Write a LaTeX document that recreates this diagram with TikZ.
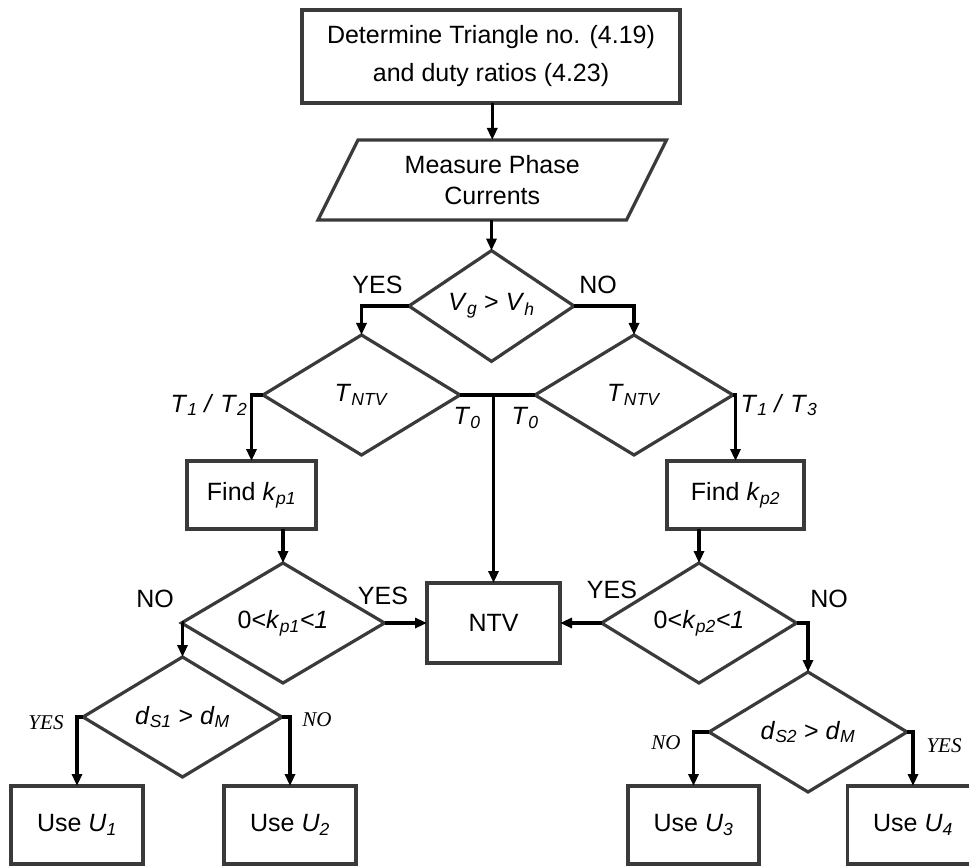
\documentclass[tikz,border=0pt]{standalone}
\usepackage{fontspec}
\setmainfont{Liberation Sans}
\newfontfamily\labserif{Liberation Serif}
\usetikzlibrary{shapes.geometric,arrows.meta}
% italic symbol with an italic subscript
\newcommand{\isub}[2]{\textit{#1}\textsubscript{\textit{#2}}}
\definecolor{edge}{HTML}{3A3A3A}

\begin{document}
\begin{tikzpicture}[x=1pt,y=-1pt,
  every node/.style={inner sep=0pt, outer sep=0pt},
  txt/.style={font=\fontsize{25}{30}\selectfont},
  blk/.style={txt, draw=edge, line width=3.2pt, rectangle, align=center},
  dec/.style={txt, draw=edge, line width=3.2pt, diamond},
  lab/.style={txt},
  slab/.style={font=\fontsize{21}{25}\selectfont\labserif\itshape},
  arr/.style={draw=black, line width=3.2pt, -{Triangle[length=12pt,width=10pt]}},
  link/.style={draw=black, line width=3.2pt}
]
\useasboundingbox (0,0) rectangle (969,866);

% process blocks
\node[blk, minimum width=378pt, minimum height=93pt, font=\fontsize{25}{38}\selectfont]
  (top) at (491,56.5) {Determine Triangle no. (4.19)\\and duty ratios (4.23)};
\node[txt, align=center, minimum width=308.5pt, minimum height=80pt, font=\fontsize{25}{31}\selectfont]
  (meas) at (492.25,180) {Measure Phase\\Currents};
\draw[draw=edge, line width=3.2pt]
  ([xshift=20pt]meas.north west) -- ([xshift=20pt]meas.north east)
  -- ([xshift=-20pt]meas.south east) -- ([xshift=-20pt]meas.south west) -- cycle;

% decisions
\node[dec, minimum width=165pt, minimum height=102pt] (d1) at (491.5,306) {\isub{V}{g} > \isub{V}{h}};
\node[dec, minimum width=197pt, minimum height=120pt] (d2) at (361.5,395) {\isub{T}{NTV}};
\node[dec, minimum width=198pt, minimum height=120pt] (d3) at (634,395) {\isub{T}{NTV}};
\node[dec, minimum width=203pt, minimum height=120pt] (d4) at (283,623) {0<\isub{k}{p1}\textit{<1}};
\node[dec, minimum width=195pt, minimum height=120pt] (d6) at (699,623) {0<\isub{k}{p2}\textit{<1}};
\node[dec, minimum width=199pt, minimum height=120pt] (d5) at (182.5,717) {\isub{d}{S1} > \isub{d}{M}};
\node[dec, minimum width=198pt, minimum height=120pt] (d7) at (808,732) {\isub{d}{S2} > \isub{d}{M}};

% result blocks
\node[blk, minimum width=133pt, minimum height=80pt] (ntv) at (493.5,623) {NTV};
\node[blk, minimum width=129pt, minimum height=68pt] (find1) at (251.5,495) {Find \isub{k}{p1}};
\node[blk, minimum width=137pt, minimum height=68pt] (find2) at (735.5,495) {Find \isub{k}{p2}};
\node[blk, minimum width=132pt, minimum height=78pt] (u1) at (77,825) {Use \isub{U}{1}};
\node[blk, minimum width=132pt, minimum height=78pt] (u2) at (290,825) {Use \isub{U}{2}};
\node[blk, minimum width=131pt, minimum height=78pt] (u3) at (693.5,825) {Use \isub{U}{3}};
\node[blk, minimum width=131pt, minimum height=78pt] (u4) at (913,825) {Use \isub{U}{4}};

% connectors
\draw[arr] (top.south -| meas.north) -- (meas.north);
\draw[arr] (meas.south -| d1.north) -- (d1.north);
\draw[arr] (d1.west) -| (d2.north);
\draw[arr] (d1.east) -| (d3.north);
\draw[link] (d2.east) -- (d3.west);
\draw[arr] (d2.east -| ntv.north) -- (ntv.north);
\draw[arr] (d2.west) -| (find1.north);
\draw[arr] (d3.east) -| (find2.north);
\draw[arr] (find1.south -| d4.north) -- (d4.north);
\draw[arr] (find2.south -| d6.north) -- (d6.north);
\draw[arr] (d4.east) -- (ntv.west);
\draw[arr] (d6.west) -- (ntv.east);
\draw[arr] (d4.west) -| (d5.north);
\draw[arr] (d6.east) -| (d7.north);
\draw[arr] (d5.west) -| (u1.north);
\draw[arr] (d5.east) -| (u2.north);
\draw[arr] (d7.west) -| (u3.north);
\draw[arr] (d7.east) -| (u4.north);

% branch labels
\node[lab] (l1) at (377.5,285) {YES};
\node[lab] (l2) at (598,285) {NO};
\node[lab] (l3) at (209,405) {\isub{T}{1} \textit{/} \isub{T}{2}};
\node[lab] (l4) at (779,405) {\isub{T}{1} \textit{/} \isub{T}{3}};
\node[lab] (l5) at (467,418) {\isub{T}{0}};
\node[lab] (l6) at (525,418) {\isub{T}{0}};
\node[lab] (l7) at (155,599) {NO};
\node[lab] (l8) at (383,596) {YES};
\node[lab] (l9) at (612,590) {YES};
\node[lab] (l10) at (829,599) {NO};
\node[slab] (s1) at (46,723) {YES};
\node[slab] (s2) at (317,720) {NO};
\node[slab] (s3) at (666,743) {NO};
\node[slab] (s4) at (944,746) {YES};
\end{tikzpicture}
\end{document}
